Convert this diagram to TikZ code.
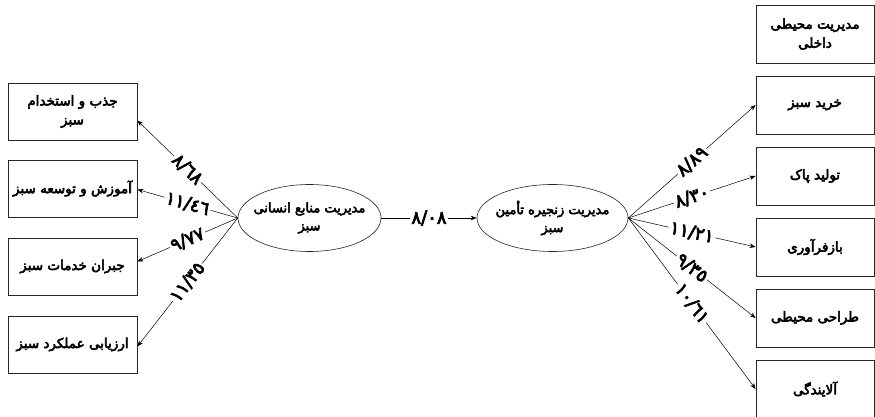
\documentclass[tikz,border=0pt]{standalone}
\usepackage{fontspec}
\newfontfamily\arabicfont[Script=Arabic, BoldFont={DejaVu Sans}, BoldFeatures={FakeBold=4}]{DejaVu Sans}
\TeXXeTstate=1
\usepackage{tikz}
\usetikzlibrary{arrows.meta, shapes.geometric}

\tikzset{
    factor/.style={draw=black!85, line width=0.8pt, minimum width=129pt, minimum height=57pt,
        align=center, inner sep=2pt, font=\arabicfont\bfseries\fontsize{13.5}{19}\selectfont},
    construct/.style={ellipse, draw=black!85, line width=0.6pt, minimum width=143pt, minimum height=67pt,
        align=center, inner xsep=-8pt, inner ysep=0pt, font=\arabicfont\bfseries\fontsize{13}{18}\selectfont},
    load/.style={fill=white, inner sep=1.5pt, sloped, font=\arabicfont\bfseries\fontsize{18}{18}\selectfont},
    link/.style={-{Stealth[length=6pt, width=4.5pt]}, line width=0.5pt}
}

\begin{document}
\begin{tikzpicture}[x=1pt, y=-1pt]
    \useasboundingbox (0,0) rectangle (875,417);
    % Left factors
    \node[factor] (jazb) at (72.5,111.5) {\beginR جذب و استخدام\endR\\\beginR سبز\endR};
    \node[factor] (amoozesh) at (72.5,188.5) {\beginR آموزش و توسعه سبز\endR};
    \node[factor] (jobran) at (72.5,266.5) {\beginR جبران خدمات سبز\endR};
    \node[factor] (arzyabi) at (72.5,344.5) {\beginR ارزیابی عملکرد سبز\endR};
    % Constructs
    \node[construct] (hrm) at (309.5,218) {\beginR مدیریت منابع انسانی\endR\\\beginR سبز\endR};
    \node[construct, minimum width=151pt] (gscm) at (552.5,218) {\beginR مدیریت زنجیره تأمین\endR\\\beginR سبز\endR};
    % Right factors
    \node[factor, minimum width=118pt, minimum height=58pt] (mohiti) at (815,34) {\beginR مدیریت محیطی\endR\\\beginR داخلی\endR};
    \node[factor, minimum width=118pt, minimum height=58pt] (kharid) at (815,105) {\beginR خرید سبز\endR};
    \node[factor, minimum width=118pt, minimum height=58pt] (tolid) at (815,176) {\beginR تولید پاک\endR};
    \node[factor, minimum width=118pt, minimum height=58pt] (bazfaravari) at (815,247) {\beginR بازفرآوری\endR};
    \node[factor, minimum width=118pt, minimum height=58pt] (tarahi) at (815,318) {\beginR طراحی محیطی\endR};
    \node[factor, minimum width=118pt, minimum height=58pt] (alayandegi) at (815,389) {\beginR آلایندگی\endR};
    % Loadings
    \foreach \b/\v/\s in {jazb/{٨/٦٨}/-9, amoozesh/{١١/٤٦}/-1, jobran/{٩/٧٧}/5, arzyabi/{١١/٣٥}/-2}
        \draw[link] (hrm.west) -- node[load] {\v} ([yshift=\s pt]\b.east);
    \draw[link] (hrm.east) -- node[load] {٨/٠٨} (gscm.west);
    \foreach \b/\v in {kharid/{٨/٨٩}, tolid/{٨/٣٠}, bazfaravari/{١١/٢١}, tarahi/{٩/٣٥}, alayandegi/{١٠/٦١}}
        \draw[link] (gscm.east) -- node[load] {\v} (\b.west);
\end{tikzpicture}
\end{document}
